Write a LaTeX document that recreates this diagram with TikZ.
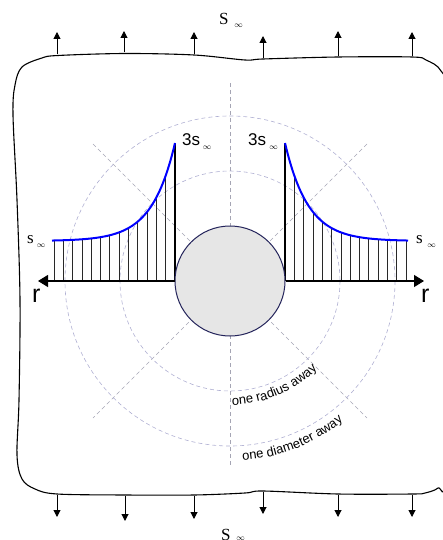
\documentclass[tikz,border=0pt]{standalone}
\usepackage{fontspec}
\setmainfont{Liberation Serif}
\newfontfamily\sansf{Liberation Sans}
\usetikzlibrary{arrows.meta,decorations.text}
\definecolor{gridc}{RGB}{165,165,180}
\definecolor{ringc}{RGB}{175,175,210}
\definecolor{holeedge}{RGB}{35,35,90}
\definecolor{holefill}{RGB}{230,230,230}
\definecolor{hatchc}{RGB}{40,40,40}
\tikzset{
  gridline/.style={gridc, dash pattern=on 4pt off 3pt, line width=0.6pt},
  ring/.style={ringc, dash pattern=on 4pt off 3pt, line width=0.6pt},
  hatch/.style={hatchc, line width=0.7pt},
  axis/.style={black, line width=1.2pt, -{Triangle[length=10pt,width=12pt]}},
  load/.style={black, line width=1pt, -{Triangle[length=7pt,width=7pt]}},
  stresscurve/.style={blue, line width=2pt},
  body/.style={black, line width=1.1pt},
  lbl/.style={inner sep=0pt, anchor=base west},
}
\begin{document}
\begin{tikzpicture}[x=1pt,y=-1pt]
\useasboundingbox (0,0) rectangle (443,540);
% body outline
\draw[body] plot[smooth cycle, tension=0.55] coordinates {
 (15,85) (22,67) (42,58) (58,55.5) (125,53.5) (194,55) (245,60) (263,59) (338,57) (412,57)
 (426,60) (441,71) (445,100) (445,300) (445,476) (438,488) (425,493) (412,494) (338,494)
 (263,491) (245,493) (194,495) (125,495) (57,494) (35,489) (22,479) (17,455) (19,400)
 (20,300) (17,200) (13,115)};
% grid
\coordinate (c) at (230,281);
\draw[gridline] (230,83) -- (230,465);
\draw[gridline] (93,144) -- (367,418);
\draw[gridline] (367,144) -- (93,418);
\draw[ring] (c) circle[radius=110];
\draw[ring] (c) circle[radius=165];
% ring labels
\path[decorate, decoration={text along path, text align=left,
  text={|\sansf\fontsize{13}{13}\selectfont|one radius away}}]
  plot[domain=89:10, samples=80] ({230+124*cos(\x)},{281+124*sin(\x)});
\path[decorate, decoration={text along path, text align=left,
  text={|\sansf\fontsize{13}{13}\selectfont|one diameter away}}]
  plot[domain=86:10, samples=80] ({230+180*cos(\x)},{281+180*sin(\x)});
% hatching
\foreach \i in {0,...,13} {
  \pgfmathsetmacro\rr{55+\i*121/13}
  \pgfmathsetmacro\hh{40+98*exp(-(\rr-55)/23)}
  \draw[hatch] ({230+\rr},281) -- ({230+\rr},{281-\hh});
  \draw[hatch] ({230-\rr},281) -- ({230-\rr},{281-\hh});
}
\draw[black, line width=1.2pt] (175,281) -- (175,143);
\draw[black, line width=1.2pt] (285,281) -- (285,143);
% stress curves
\draw[stresscurve] plot[domain=55:178, samples=80] ({230+\x},{281-(40+98*exp(-(\x-55)/23))});
\draw[stresscurve] plot[domain=55:178, samples=80] ({230-\x},{281-(40+98*exp(-(\x-55)/23))});
% hole
\node[circle, draw=holeedge, fill=holefill, line width=1pt, minimum size=110pt, inner sep=0pt] (hole) at (c) {};
% axes
\coordinate (al) at (38,281);
\coordinate (ar) at (424,281);
\draw[axis] (hole.west) -- (al);
\draw[axis] (hole.east) -- (ar);
% loads
\foreach \x/\a/\b in {57/54/32, 124/52.5/31, 194/54/32, 263/58.5/36, 338/56/31, 412/56/32} {
  \draw[load] (\x,\a) -- (\x,\b);
}
\foreach \x/\a/\b in {57/495/517, 125/496/521, 194/496/519, 263/492/514, 338/495/517, 412/495/517} {
  \draw[load] (\x,\a) -- (\x,\b);
}
% labels
\node[lbl] (stop) at (219,25) {\fontsize{17}{17}\selectfont S};
\node (stopi) at (238.5,26) {\fontsize{8}{8}\selectfont$\infty$};
\node[lbl] (sbot) at (221,540) {\fontsize{17}{17}\selectfont S};
\node (sboti) at (240.5,538.5) {\fontsize{8}{8}\selectfont$\infty$};
\node[lbl] (sl) at (27,243) {\fontsize{17}{17}\selectfont s};
\node (sli) at (41,245.5) {\fontsize{8}{8}\selectfont$\infty$};
\node[lbl] (sr) at (416,243) {\fontsize{17}{17}\selectfont s};
\node (sri) at (431.5,245.5) {\fontsize{8}{8}\selectfont$\infty$};
\node[lbl] (tl) at (182,146) {\sansf\fontsize{17}{17}\selectfont 3s};
\node (tli) at (207,148) {\fontsize{8}{8}\selectfont$\infty$};
\node[lbl] (tr) at (248,146) {\sansf\fontsize{17}{17}\selectfont 3s};
\node (tri) at (273.5,148) {\fontsize{8}{8}\selectfont$\infty$};
\node[lbl] (rl) at (32,302) {\sansf\fontsize{25}{25}\selectfont r};
\node[lbl] (rr) at (421,302) {\sansf\fontsize{25}{25}\selectfont r};
\end{tikzpicture}
\end{document}
